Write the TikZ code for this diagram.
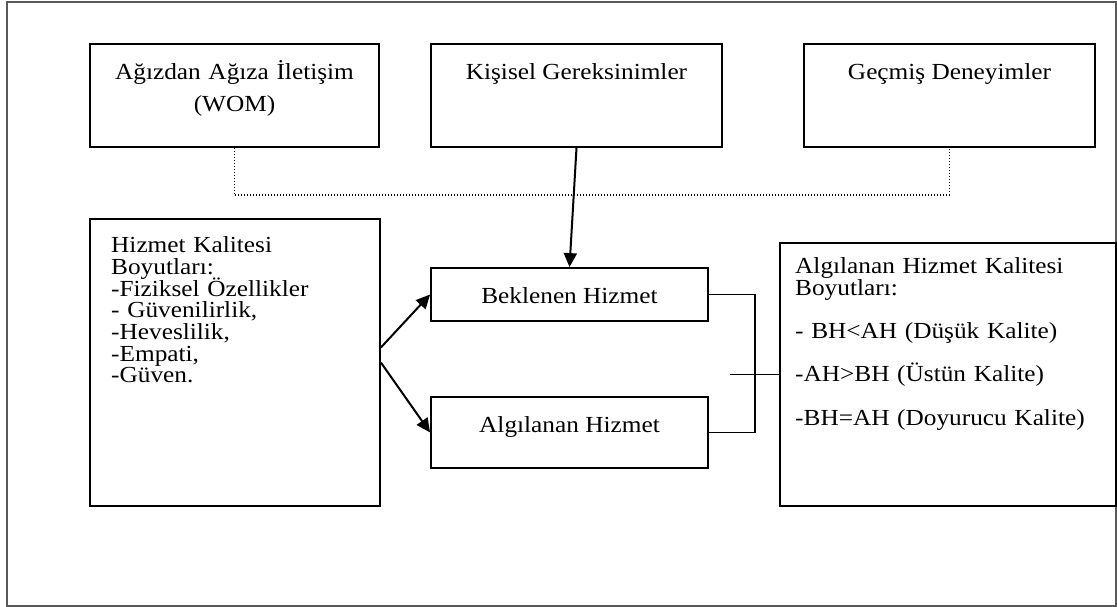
\documentclass[tikz,border=0pt]{standalone}
\usepackage{fontspec}
\setmainfont[FakeStretch=1.1]{Liberation Serif}
\usetikzlibrary{arrows.meta,calc}
\newcommand\tightlines{\lineskiplimit=-50pt\relax}

\begin{document}
\begin{tikzpicture}[x=1pt,y=-1pt,
  box/.style={draw=black,line width=1.8pt,inner sep=0pt},
  txt/.style={inner sep=0pt,anchor=base,font=\fontsize{23}{21.7}\selectfont},
  toptxt/.style={txt,font=\fontsize{23}{32}\selectfont},
  listtxt/.style={txt,anchor=base west,align=left},
  conn/.style={draw=black,line width=1.5pt},
  arr/.style={draw=black,line width=2pt,-{Triangle[length=14pt,width=13pt]}},
  dotline/.style={draw=black,line width=1.3pt,dash pattern=on 1pt off 2pt}]

  % page size and outer frame
  \useasboundingbox (0,0) rectangle (1117,607);
  \draw[black!65,line width=1.3pt] (7,2) rectangle (1116,606);

  % top row: sources of expectation
  \node[box,minimum width=289pt,minimum height=103pt] (wom) at (234.5,95.5) {};
  \node[box,minimum width=291pt,minimum height=103pt] (kis) at (576.5,95.5) {};
  \node[box,minimum width=291pt,minimum height=103pt] (gec) at (949.5,95.5) {};
  \node[toptxt,text width=289pt,align=center] (womtxt) at (234.5,80) {Ağızdan Ağıza İletişim\\(WOM)};
  \node[txt] (kistxt) at (576.5,80) {Kişisel Gereksinimler};
  \node[txt] (gectxt) at (949.5,80) {Geçmiş Deneyimler};

  % left: quality dimensions
  \node[box,minimum width=290pt,minimum height=287pt] (hk) at (235,362.5) {};
  \node[listtxt,text width=260pt] (hktxt) at (111,252.7) {\tightlines Hizmet Kalitesi\\Boyutları:\\-Fiziksel Özellikler\\- Güvenilirlik,\\-Heveslilik,\\-Empati,\\-Güven.};

  % middle: expected and perceived service
  \node[box,minimum width=277pt,minimum height=53pt] (bek) at (569.5,294.5) {};
  \node[box,minimum width=277pt,minimum height=71pt] (alg) at (569.5,432.5) {};
  \node[txt] (bektxt) at (569.5,303) {Beklenen Hizmet};
  \node[txt] (algtxt) at (569.5,432) {Algılanan Hizmet};

  % right: perceived quality outcome
  \node[box,minimum width=336pt,minimum height=263pt] (ahk) at (948,374.5) {};
  \node[listtxt,text width=310pt] (ahktxt) at (795,273.3) {\tightlines Algılanan Hizmet Kalitesi\\Boyutları:\\[21.7pt]- BH<AH (Düşük Kalite)\\[21.7pt]-AH>BH (Üstün Kalite)\\[21.7pt]-BH=AH (Doyurucu Kalite)};

  % connectors
  \coordinate (dotrow) at (0,195);
  \draw[dotline] (wom.south) -- (wom.south |- dotrow) -- (gec.south |- dotrow) -- (gec.south);
  \draw[arr] (kis.south) -- (bek.north);
  \draw[arr] ($(hk.east)+(0,-15)$) -- (bek.west);
  \draw[arr] (hk.east) -- (alg.west);
  \coordinate (brk) at (755,374.5);
  \coordinate (stub) at (730,374.5);
  \draw[conn] (bek.east) -| (brk) |- (alg.east);
  \draw[conn] (stub) -- (ahk.west);
\end{tikzpicture}
\end{document}
